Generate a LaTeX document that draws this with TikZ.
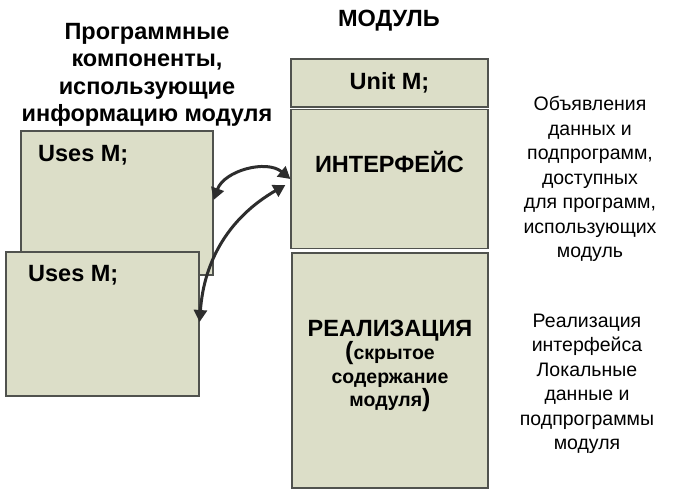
\documentclass[tikz,border=0pt]{standalone}
\usepackage{fontspec}
\setmainfont{Liberation Sans}
\usetikzlibrary{arrows.meta}
\definecolor{boxfill}{RGB}{220,222,200}
\definecolor{boxline}{RGB}{80,82,78}
\definecolor{arrowgray}{RGB}{45,45,45}
\tikzset{
	blockbox/.style={draw=boxline, fill=boxfill, line width=1.2pt, rectangle, inner sep=0pt},
	headtext/.style={font=\fontsize{23.5}{27.5}\selectfont\bfseries, align=center, inner sep=0pt},
	notetext/.style={font=\fontsize{19.5}{24.5}\selectfont, align=center, inner sep=0pt},
	usearrow/.style={arrowgray, line width=3pt, {Triangle[length=12pt,width=13pt]}-{Triangle[length=12pt,width=13pt]}}
}
\begin{document}
\begin{tikzpicture}[x=1pt, y=1pt]
			\useasboundingbox (0,0) rectangle (686,-493);
			% client program boxes
			\node[blockbox, minimum width=192, minimum height=144] (usesa) at (117,-203) {};
			\node[blockbox, minimum width=193, minimum height=144] (usesb) at (102.5,-324) {};
			\node[headtext, anchor=west] (usesatext) at (38,-155) {Uses M;};
			\node[headtext, anchor=west] (usesbtext) at (28,-275) {Uses M;};
			% module boxes
			\node[blockbox, minimum width=197, minimum height=48] (unit) at (389.5,-83) {};
			\node[blockbox, minimum width=197, minimum height=139] (ifc) at (389.5,-179) {};
			\node[blockbox, minimum width=196, minimum height=235] (impl) at (390,-370.5) {};
			\node[headtext] (unittext) at (unit) {Unit M;};
			\node[headtext] (ifctext) at (389.5,-162) {ИНТЕРФЕЙС};
			\node[headtext] (impltext) at (390,-366) {РЕАЛИЗАЦИЯ\\[-4pt]
				{\fontsize{19.5}{23}\selectfont{\fontsize{25}{23}\selectfont(}скрытое}\\[-4pt]
				{\fontsize{19.5}{23}\selectfont содержание}\\[-4pt]
				{\fontsize{19.5}{23}\selectfont модуля{\fontsize{25}{23}\selectfont)}}};
			% titles
			\node[headtext] (progtitle) at (147,-75) {Программные\\компоненты,\\использующие\\информацию модуля};
			\node[headtext] (modtitle) at (389,-21) {МОДУЛЬ};
			% notes on the right
			\node[notetext] (ifcnote) at (590,-179) {Объявления\\данных и\\подпрограмм,\\доступных\\для программ,\\использующих\\модуль};
			\node[notetext] (implnote) at (587,-384) {Реализация\\интерфейса\\Локальные\\данные и\\подпрограммы\\модуля};
			% links
			\draw[usearrow] ([yshift=3pt]usesa.east) to[bend left=55] (ifc.west);
			\draw[usearrow] ([yshift=2pt]usesb.east) to[bend left=28] ([shift={(-5,-6)}]ifc.west);
		\end{tikzpicture}
\end{document}
